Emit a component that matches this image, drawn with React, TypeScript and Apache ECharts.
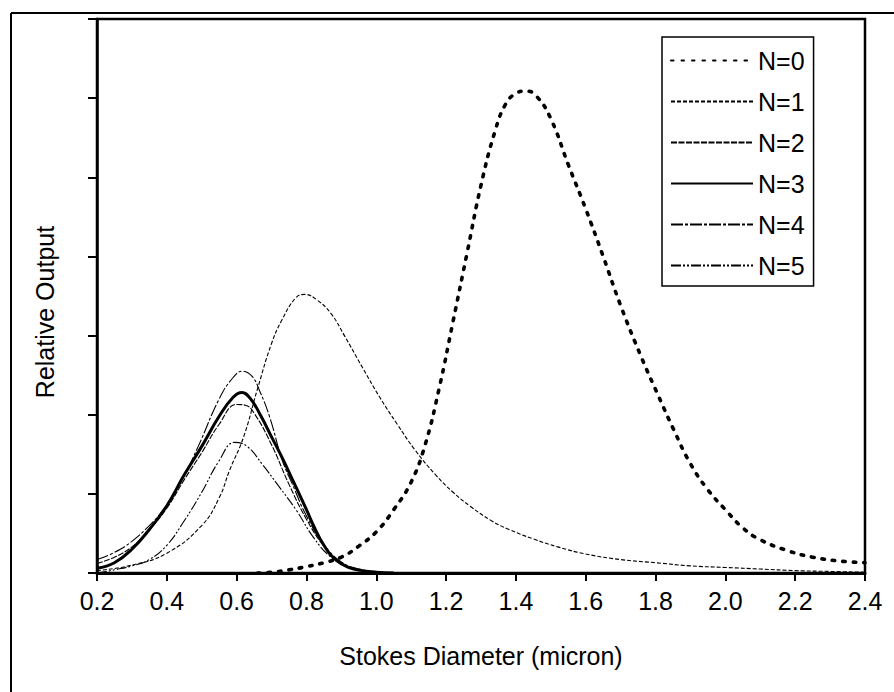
import React, { useEffect, useRef } from "react";
import * as echarts from "echarts";

// ---- data ----
const seriesNames = ["N=0", "N=1", "N=2", "N=3", "N=4", "N=5"];

const n0X = [0.66, 0.7, 0.75, 0.8, 0.85, 0.9, 0.95, 1.0, 1.05, 1.1, 1.14, 1.18, 1.22, 1.26, 1.3, 1.34, 1.37, 1.4, 1.43, 1.46, 1.5, 1.55, 1.6, 1.65, 1.7, 1.76, 1.81, 1.85, 1.9, 1.95, 2.0, 2.05, 2.1, 2.18, 2.25, 2.33, 2.4];
const n0Y = [0, 0.01, 0.04, 0.08, 0.13, 0.2, 0.34, 0.52, 0.8, 1.15, 1.62, 2.33, 3.18, 4.04, 4.9, 5.58, 5.92, 6.06, 6.09, 6.02, 5.74, 5.16, 4.6, 4.0, 3.38, 2.72, 2.22, 1.83, 1.38, 1.05, 0.8, 0.57, 0.42, 0.28, 0.2, 0.15, 0.13];

const n1X = [0.2, 0.3, 0.4, 0.5, 0.55, 0.58, 0.62, 0.66, 0.7, 0.73, 0.77, 0.795, 0.83, 0.87, 0.91, 0.96, 1.01, 1.06, 1.11, 1.17, 1.22, 1.27, 1.33, 1.38, 1.45, 1.52, 1.6, 1.7, 1.8, 1.9, 2.0, 2.1, 2.2, 2.3, 2.4];
const n1Y = [0.03, 0.1, 0.25, 0.6, 0.95, 1.3, 1.72, 2.33, 2.9, 3.2, 3.48, 3.52, 3.45, 3.28, 2.99, 2.6, 2.22, 1.88, 1.56, 1.24, 1.02, 0.84, 0.66, 0.55, 0.43, 0.33, 0.24, 0.17, 0.13, 0.09, 0.07, 0.05, 0.03, 0.02, 0.01];

const n2X = [0.2, 0.25, 0.3, 0.35, 0.4, 0.45, 0.5, 0.55, 0.6, 0.625, 0.65, 0.7, 0.75, 0.8, 0.85, 0.9, 0.95, 1.0];
const n2Y = [0.12, 0.2, 0.33, 0.55, 0.82, 1.18, 1.52, 1.88, 2.13, 2.12, 2.02, 1.62, 1.12, 0.68, 0.34, 0.13, 0.04, 0.01];

const n3X = [0.2, 0.25, 0.3, 0.35, 0.4, 0.45, 0.5, 0.55, 0.59, 0.615, 0.64, 0.67, 0.7, 0.73, 0.76, 0.8, 0.82, 0.85, 0.88, 0.92, 0.96, 1.0, 1.05];
const n3Y = [0.06, 0.13, 0.3, 0.55, 0.85, 1.24, 1.6, 1.98, 2.22, 2.28, 2.2, 1.98, 1.72, 1.46, 1.18, 0.8, 0.6, 0.35, 0.18, 0.07, 0.03, 0.01, 0];

const n4X = [0.2, 0.25, 0.3, 0.35, 0.39, 0.44, 0.49, 0.55, 0.59, 0.617, 0.645, 0.666, 0.694, 0.731, 0.76, 0.8, 0.85, 0.9, 0.95, 1.0];
const n4Y = [0.17, 0.26, 0.4, 0.6, 0.8, 1.15, 1.6, 2.2, 2.47, 2.55, 2.48, 2.3, 1.98, 1.42, 1.12, 0.72, 0.36, 0.14, 0.05, 0.01];

const n5X = [0.2, 0.25, 0.3, 0.35, 0.4, 0.45, 0.5, 0.55, 0.594, 0.63, 0.674, 0.72, 0.77, 0.82, 0.87, 0.92, 0.97, 1.0];
const n5Y = [0, 0.04, 0.09, 0.17, 0.35, 0.66, 1.02, 1.42, 1.65, 1.6, 1.37, 1.1, 0.8, 0.45, 0.2, 0.07, 0.02, 0];

const xMin = 0.2;
const xMax = 2.4;
const xStep = 0.2;
const yMin = 0;
const yMax = 7;
const yStep = 1;

const xTitle = "Stokes Diameter (micron)";
const yTitle = "Relative Output";

const FONT = "'Liberation Sans', Arial, sans-serif";

function pairs(xs: number[], ys: number[]) {
  return xs.map((x, i) => [x, ys[i]]);
}

const seriesStyles: { width: number; type: any; cap?: string }[] = [
  { width: 3.6, type: [2.5, 8], cap: "round" },
  { width: 1.1, type: [4, 2] },
  { width: 1.1, type: [6, 1.5] },
  { width: 3, type: "solid" },
  { width: 1.1, type: [12, 2, 3, 2] },
  { width: 1.1, type: [10, 2, 2, 2, 2, 2] },
];

export default function App() {
  const ref = useRef<HTMLDivElement>(null);

  useEffect(() => {
    if (!ref.current) return;
    const chart = echarts.init(ref.current, undefined, { renderer: "svg" });
    const dataSets = [
      pairs(n0X, n0Y),
      pairs(n1X, n1Y),
      pairs(n2X, n2Y),
      pairs(n3X, n3Y),
      pairs(n4X, n4Y),
      pairs(n5X, n5Y),
    ];
    chart.setOption({
      animation: false,
      backgroundColor: "#fff",
      textStyle: { fontFamily: FONT, color: "#000" },
      grid: {
        left: 97,
        top: 19,
        right: 29,
        bottom: 119,
        show: true,
        borderColor: "#000",
        borderWidth: 2.5,
      },
      legend: {
        orient: "vertical",
        left: 662,
        top: 37,
        width: 155,
        itemWidth: 82,
        itemHeight: 14,
        itemGap: 16,
        padding: [11, 9, 8, 8],
        borderColor: "#000",
        borderWidth: 1.5,
        backgroundColor: "#fff",
        itemStyle: { color: "rgba(0,0,0,0)", borderWidth: 0, opacity: 0 },
        textStyle: { fontFamily: FONT, fontSize: 25, color: "#000" },
        data: seriesNames,
      },
      xAxis: {
        type: "value",
        min: xMin,
        max: xMax,
        interval: xStep,
        name: xTitle,
        nameLocation: "middle",
        nameGap: 70,
        nameTextStyle: { fontFamily: FONT, fontSize: 25, color: "#000" },
        axisLine: { lineStyle: { color: "#000", width: 3 } },
        axisTick: { show: true, inside: false, length: 8, lineStyle: { color: "#000", width: 2 } },
        axisLabel: {
          color: "#000",
          fontSize: 25,
          fontFamily: FONT,
          margin: 15,
          formatter: (v: number) => v.toFixed(1),
        },
        splitLine: { show: false },
      },
      yAxis: {
        type: "value",
        min: yMin,
        max: yMax,
        interval: yStep,
        name: yTitle,
        nameLocation: "middle",
        nameGap: 40,
        nameRotate: 90,
        nameTextStyle: { fontFamily: FONT, fontSize: 25, color: "#000", padding: [0, 32, 0, 0] },
        axisLine: { lineStyle: { color: "#000", width: 2.5 } },
        axisTick: { show: true, inside: false, length: 9, lineStyle: { color: "#000", width: 2 } },
        axisLabel: { show: false },
        splitLine: { show: false },
      },
      series: seriesNames.map((name, i) => ({
        name,
        type: "line",
        data: dataSets[i],
        showSymbol: false,
        symbol: "none",
        smooth: 0.45,
        z: i === 0 ? 5 : 3,
        lineStyle: {
          color: "#000",
          width: seriesStyles[i].width,
          type: seriesStyles[i].type,
          cap: seriesStyles[i].cap || "butt",
        },
        itemStyle: { color: "#000" },
      })),
      graphic: [
        {
          type: "line",
          shape: { x1: 11, y1: 13, x2: 894, y2: 13 },
          style: { stroke: "#000", lineWidth: 2 },
          silent: true,
        },
        {
          type: "line",
          shape: { x1: 11, y1: 13, x2: 11, y2: 692 },
          style: { stroke: "#000", lineWidth: 2 },
          silent: true,
        },
      ],
    });
    return () => chart.dispose();
  }, []);

  return (
    <div
      ref={ref}
      style={{ position: "fixed", left: 0, top: 0, width: 894, height: 692, background: "#fff" }}
    />
  );
}
